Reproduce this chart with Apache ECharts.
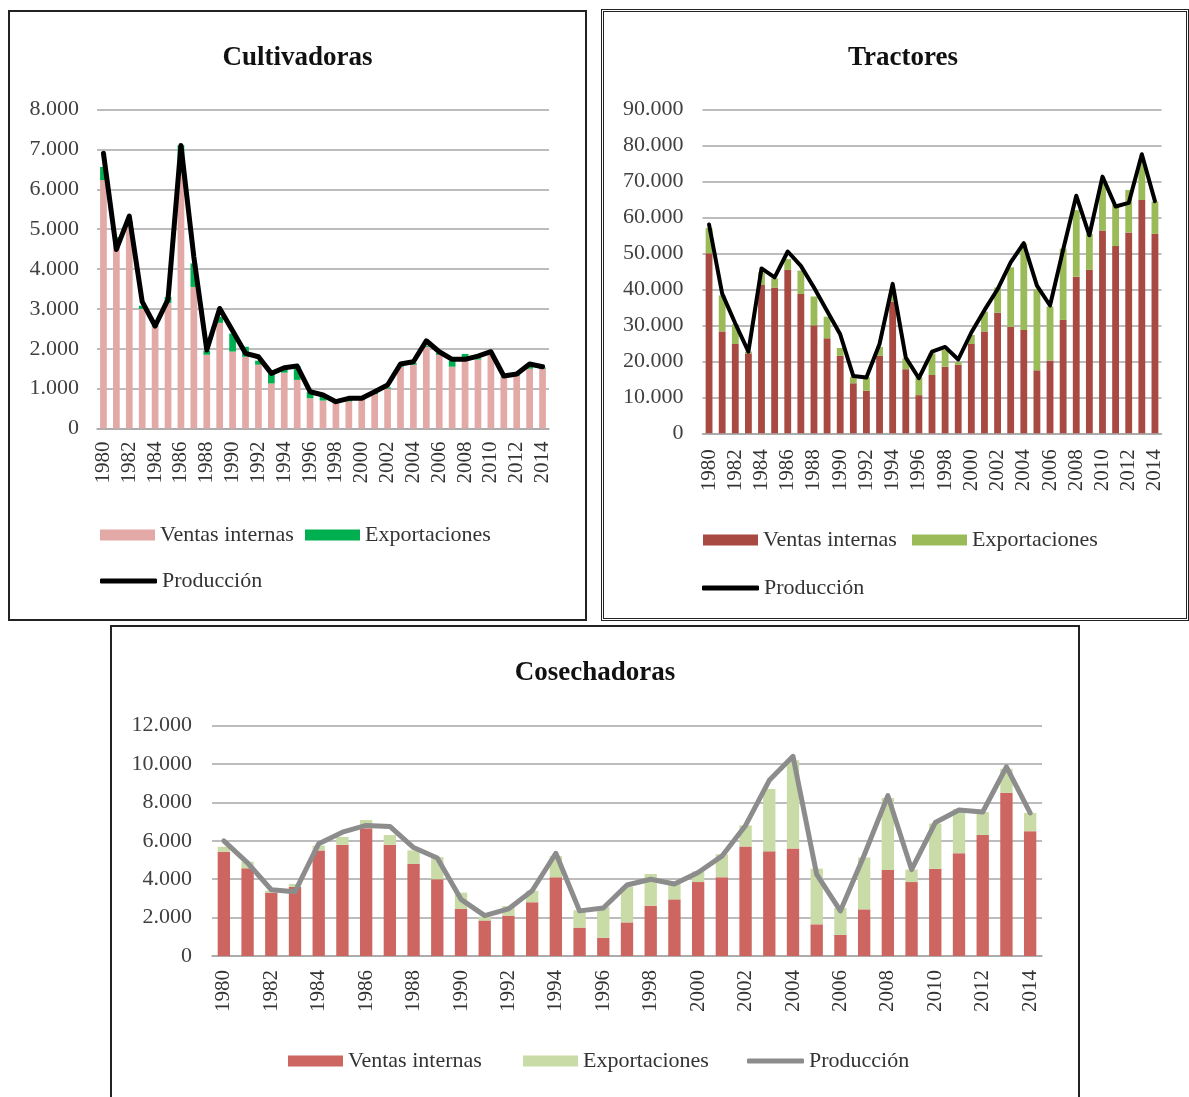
<!DOCTYPE html>
<html>
<head>
<meta charset="utf-8">
<script src="https://cdn.jsdelivr.net/npm/echarts@6/dist/echarts.min.js"></script>
<style>
  body { margin: 0; width: 1189px; height: 1097px; overflow: hidden; background: #fff; }
  .panel { position: absolute; box-sizing: content-box; }
  #cultivadoras { left: 8px; top: 10px; width: 575px; height: 607px; border: 2px solid #222; }
  #tractores { left: 601px; top: 9px; width: 582px; height: 606px; border: 3px double #222; }
  #cosechadoras { left: 110px; top: 625px; width: 966px; height: 500px; border: 2px solid #222; }
</style>
</head>
<body>
<div id="cultivadoras" class="panel"></div>
<div id="tractores" class="panel"></div>
<div id="cosechadoras" class="panel"></div>

<script>
const years = []
for (let y = 1980; y <= 2014; y++) years.push(String(y))

// Cultivadoras (unidades)
const cultVentas = [6230, 4750, 5150, 3000, 2550, 3150, 6400, 3550, 1850, 2650, 1930, 1800, 1600, 1130, 1400, 1220, 760, 700, 640, 680, 720, 860, 1000, 1550, 1600, 2050, 1850, 1550, 1790, 1730, 1850, 1280, 1320, 1500, 1500]
const cultExport = [330, 50, 50, 80, 30, 150, 700, 590, 100, 150, 450, 250, 100, 250, 80, 350, 150, 100, 30, 60, 30, 30, 30, 30, 40, 30, 50, 150, 80, 30, 20, 20, 20, 80, 30]
const cultProd = [6900, 4490, 5325, 3180, 2570, 3240, 7100, 4300, 1970, 3010, 2450, 1885, 1800, 1383, 1525, 1566, 922, 840, 672, 757, 757, 922, 1090, 1616, 1675, 2200, 1925, 1734, 1734, 1817, 1925, 1316, 1366, 1616, 1550]

// Tractores
const tracVentas = [50000, 28300, 24800, 22200, 41200, 40500, 45400, 38700, 30000, 26400, 21500, 13900, 11800, 21500, 36600, 17800, 10600, 16200, 18500, 19000, 24800, 28300, 33500, 29600, 28700, 17500, 20200, 31500, 43500, 45400, 56300, 52000, 55800, 64800, 55400]
const tracExport = [7000, 10000, 5500, 500, 3500, 2500, 3000, 6500, 8000, 6000, 2200, 1800, 3800, 2500, 3500, 3000, 5000, 6000, 4700, 800, 2500, 5500, 7000, 16500, 24000, 22500, 15000, 19800, 18500, 10000, 13000, 11500, 11800, 10500, 9000]
const tracProd = [58000, 38800, 30500, 22700, 45800, 43300, 50500, 46500, 40500, 34000, 27500, 15900, 15500, 24800, 41500, 21000, 15300, 22700, 24000, 20500, 28000, 34200, 40000, 47500, 52800, 41000, 35500, 51000, 66000, 55000, 71300, 63000, 64000, 77500, 64500]

// Cosechadoras
const cosVentas = [5430, 4570, 3300, 3600, 5500, 5800, 6650, 5800, 4800, 4000, 2450, 1850, 2100, 2800, 4100, 1480, 950, 1750, 2620, 2950, 3850, 4100, 5700, 5450, 5600, 1650, 1100, 2430, 4480, 3850, 4550, 5350, 6300, 8500, 6500]
const cosExport = [260, 340, 100, 150, 250, 400, 430, 500, 700, 1150, 850, 200, 500, 600, 1100, 900, 1600, 1850, 1650, 800, 550, 1200, 1100, 3250, 4600, 2900, 1400, 2700, 3750, 650, 2350, 2300, 1200, 1250, 950]
const cosProd = [6000, 4850, 3450, 3350, 5850, 6450, 6800, 6750, 5650, 5100, 2950, 2100, 2450, 3400, 5350, 2350, 2500, 3700, 4000, 3750, 4350, 5200, 6800, 9150, 10400, 4250, 2350, 5250, 8350, 4500, 6950, 7600, 7500, 9850, 7450]

const FONT = "'Liberation Serif', 'Times New Roman', serif"

function fmt(v) {
  return String(v).replace(/\B(?=(\d{3})+(?!\d))/g, '.')
}

// one legend per entry so each sits where the original puts it
function legendItem(name, left, top, isLine) {
  return {
    data: [{ name: name, icon: isLine ? 'roundRect' : 'rect' }],
    left: left,
    top: top,
    padding: 0,
    itemWidth: isLine ? 57 : 55,
    itemHeight: isLine ? 5 : 11,
    selectedMode: false,
    textStyle: { fontFamily: FONT, fontSize: 22, color: '#333' }
  }
}

function buildOption(c) {
  return {
    animation: false,
    title: {
      text: c.title,
      left: c.titleLeft,
      top: 28,
      textStyle: { fontFamily: FONT, fontSize: 27, fontWeight: 'bold', color: '#111' }
    },
    legend: c.legends,
    grid: c.grid,
    xAxis: {
      type: 'category',
      data: years,
      axisLine: { lineStyle: { color: '#a6a6a6', width: 1.5 } },
      axisTick: { show: false },
      axisLabel: { rotate: 90, interval: 1, margin: c.xMargin, fontFamily: FONT, fontSize: 21, color: '#333' }
    },
    yAxis: {
      type: 'value',
      min: 0,
      max: c.max,
      interval: c.step,
      axisLine: { show: false },
      axisTick: { show: false },
      axisLabel: { formatter: fmt, margin: c.yMargin, padding: [6, 0, 0, 0], fontFamily: FONT, fontSize: 22, color: '#404040' },
      splitLine: { lineStyle: { color: '#a6a6a6', width: 1.5 } }
    },
    series: [
      { name: 'Ventas internas', type: 'bar', stack: 'total', barWidth: '52%', data: c.ventas, itemStyle: { color: c.colors[0] } },
      { name: 'Exportaciones', type: 'bar', stack: 'total', barWidth: '52%', data: c.exportaciones, itemStyle: { color: c.colors[1] } },
      {
        name: 'Producción', type: 'line', data: c.produccion, symbol: 'none',
        itemStyle: { color: c.colors[2] },
        lineStyle: { color: c.colors[2], width: c.lineWidth, cap: 'round', join: 'round' }
      }
    ]
  }
}

const cultChart = echarts.init(document.getElementById('cultivadoras'))
cultChart.setOption(buildOption({
  title: 'Cultivadoras',
  titleLeft: 'center',
  grid: { left: 87, top: 97.5, width: 452, height: 319 },
  max: 8000, step: 1000, xMargin: 13, yMargin: 18,
  ventas: cultVentas, exportaciones: cultExport, produccion: cultProd,
  colors: ['#e3a9a6', '#00b050', '#000000'], lineWidth: 5,
  legends: [
    legendItem('Ventas internas', 90, 512, false),
    legendItem('Exportaciones', 295, 512, false),
    legendItem('Producción', 90, 558, true)
  ]
}))

const tracChart = echarts.init(document.getElementById('tractores'))
tracChart.setOption(buildOption({
  title: 'Tractores',
  titleLeft: 239,
  grid: { left: 98.5, top: 97.3, width: 459, height: 324 },
  max: 90000, step: 10000, xMargin: 16, yMargin: 19,
  ventas: tracVentas, exportaciones: tracExport, produccion: tracProd,
  colors: ['#a84942', '#9bbb59', '#000000'], lineWidth: 4,
  legends: [
    legendItem('Ventas internas', 99, 517, false),
    legendItem('Exportaciones', 308, 517, false),
    legendItem('Producción', 98, 565, true)
  ]
}))

const cosChart = echarts.init(document.getElementById('cosechadoras'))
cosChart.setOption(buildOption({
  title: 'Cosechadoras',
  titleLeft: 'center',
  grid: { left: 100, top: 98.6, width: 830, height: 230.4 },
  max: 12000, step: 2000, xMargin: 14, yMargin: 20,
  ventas: cosVentas, exportaciones: cosExport, produccion: cosProd,
  colors: ['#cd6660', '#c9dba6', '#8c8c8c'], lineWidth: 5,
  legends: [
    legendItem('Ventas internas', 176, 423, false),
    legendItem('Exportaciones', 411, 423, false),
    legendItem('Producción', 635, 423, true)
  ]
}))
</script>
</body>
</html>
